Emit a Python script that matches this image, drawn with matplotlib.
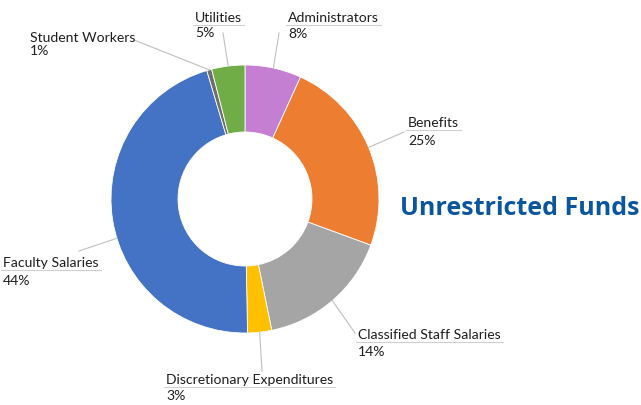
import numpy as np
import matplotlib
matplotlib.use('Agg')
import matplotlib.pyplot as plt

# slice shares as drawn in the reference (percent of the circle)
categories = [
    'Administrators',
    'Benefits',
    'Classified Staff Salaries',
    'Discretionary Expenditures',
    'Faculty Salaries',
    'Student Workers',
    'Utilities',
]
shares = [6.8, 23.8, 16.2, 2.9, 45.7, 0.6, 4.0]
pct_labels = ['8%', '25%', '14%', '3%', '44%', '1%', '5%']
colors = ['#C47FD3', '#ED7D31', '#A5A5A5', '#FFC000', '#4472C4', '#6F6F6F', '#70AD47']

# label layout in pixels:
# (left x, name baseline, percent baseline, leader start, underline?, leader spot on wedge)
LABEL_POS = {
    'Administrators': (288, 22, 38, (279, 33), True, 0.5),
    'Benefits': (408, 127, 145, (404, 132), True, 0.5),
    'Classified Staff Salaries': (358, 339, 356, (355, 333), True, 0.5),
    'Discretionary Expenditures': (166, 384, 400, (262, 371), True, 0.5),
    'Faculty Salaries': (3, 267, 285, (79, 251), True, 0.45),
    'Student Workers': (30, 42, 55, (134, 40), False, 0.5),
    'Utilities': (195, 22, 37, (223, 33), True, 0.5),
}

W, H = 641, 405
CX, CY, R, RING = 245, 199, 134, 67
FONT = 'Lato'

fig = plt.figure(figsize=(W / 100, H / 100), dpi=100)
ax = fig.add_axes([0, 0, 1, 1])
wedges, _ = ax.pie(
    shares,
    colors=colors,
    startangle=-90,
    counterclock=True,
    radius=R,
    center=(CX, CY),
    wedgeprops={'width': RING, 'edgecolor': 'white', 'linewidth': 0.6},
)
ax.set_xlim(0, W)
ax.set_ylim(H, 0)
ax.set_aspect('auto')
ax.axis('off')

texts = []
for wedge, name, pct in zip(wedges, categories, pct_labels):
    x, yname, ypct, (lx, ly), underline, spot = LABEL_POS[name]
    t = ax.text(x, yname, name, fontsize=10.1, family=FONT, color='#1F1F1F', va='baseline')
    ax.text(x, ypct, pct, fontsize=10.1, family=FONT, color='#1F1F1F', va='baseline')
    texts.append((t, underline, yname))
    ang = np.deg2rad(wedge.theta1 + spot * (wedge.theta2 - wedge.theta1))
    ex, ey = CX + R * np.cos(ang), CY + R * np.sin(ang)
    ax.plot([lx, ex], [ly, ey], color='#BFBFBF', linewidth=0.8)

fig.canvas.draw()
renderer = fig.canvas.get_renderer()
inv = ax.transData.inverted()
for t, underline, yname in texts:
    if not underline:
        continue
    bb = t.get_window_extent(renderer)
    (x0, _), (x1, _) = inv.transform([[bb.x0, bb.y0], [bb.x1, bb.y1]])
    ax.plot([x0 - 2, x1 + 2], [yname + 3, yname + 3], color='#D0D0D0', linewidth=0.8)

ax.text(400, 215, 'Unrestricted Funds', fontsize=18, family='Open Sans', fontweight='bold',
        color='#0B56A0', va='baseline')

fig.savefig('out.png', dpi=100)
